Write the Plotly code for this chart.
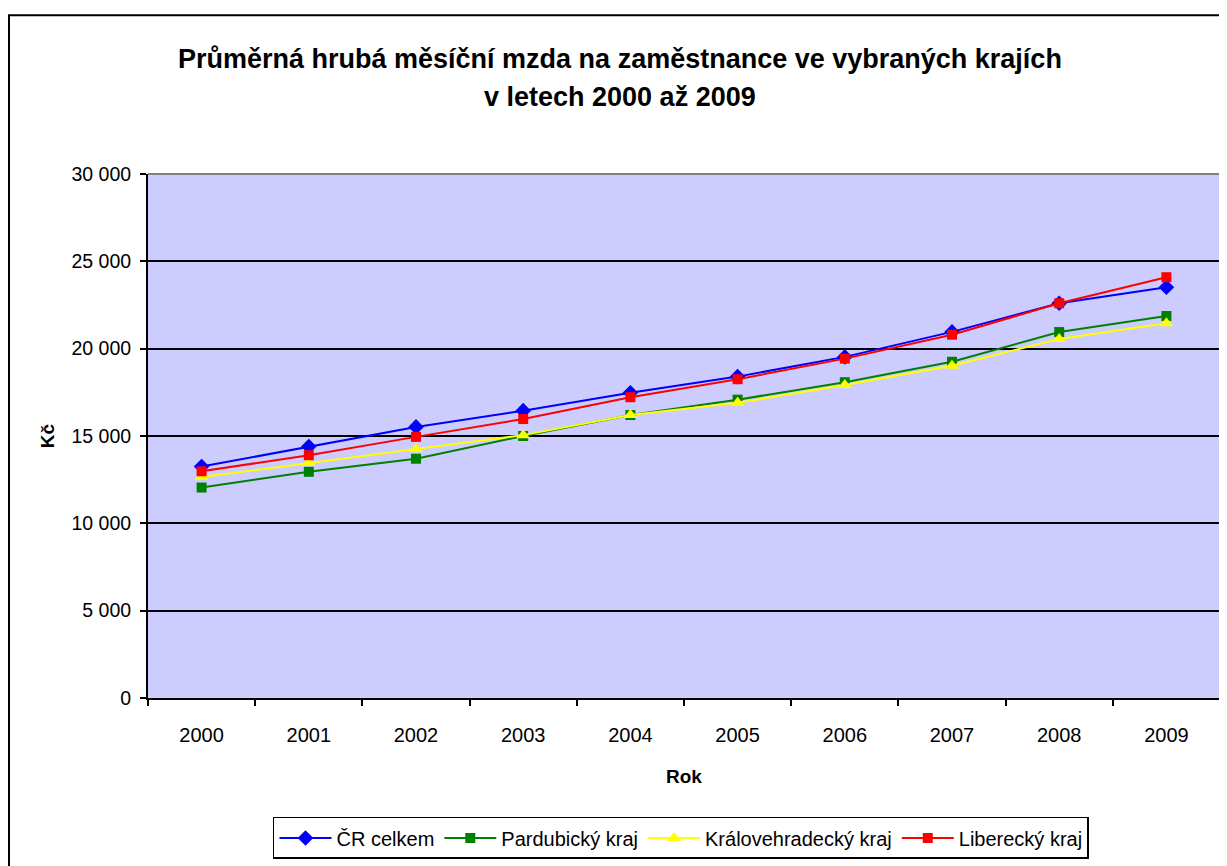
import plotly.graph_objects as go

# Data
roky = ['2000', '2001', '2002', '2003', '2004', '2005', '2006', '2007', '2008', '2009']
cr_celkem = [13250, 14400, 15520, 16450, 17480, 18400, 19530, 20960, 22600, 23520]
pardubicky = [12050, 12950, 13700, 15000, 16200, 17080, 18080, 19250, 20950, 21870]
kralovehradecky = [12650, 13450, 14250, 15050, 16200, 16900, 17920, 19020, 20550, 21450]
liberecky = [12980, 13900, 14950, 15970, 17220, 18250, 19430, 20800, 22600, 24090]

serie = [
    ('ČR celkem', cr_celkem, '#0000FF', 'diamond', 12),
    ('Pardubický kraj', pardubicky, '#008000', 'square', 10),
    ('Královehradecký kraj', kralovehradecky, '#FFFF00', 'triangle-up', 12),
    ('Liberecký kraj', liberecky, '#FF0000', 'square', 10),
]

FONT = 'Liberation Sans, Arial, sans-serif'

fig = go.Figure()
for name, vals, color, symbol, size in serie:
    fig.add_trace(go.Scatter(
        x=roky, y=vals, name=name, mode='lines+markers',
        line=dict(color=color, width=2),
        marker=dict(symbol=symbol, size=size, color=color, line=dict(width=0)),
    ))

# page body has an 8px margin, so the figure is 8px smaller than the window
fig.update_layout(
    width=1219, height=858,
    margin=dict(l=140, r=7, t=166, b=164),
    paper_bgcolor='white',
    plot_bgcolor='#CCCCFF',
    separators=', ',
    font=dict(family=FONT, size=19, color='black'),
    showlegend=True,
    legend=dict(
        orientation='h', x=0.1166, y=-0.227, xanchor='left', yanchor='top',
        bordercolor='black', borderwidth=1.5, bgcolor='white',
        font=dict(family=FONT, size=20), itemwidth=52, tracegroupgap=0,
    ),
    xaxis=dict(
        type='category', range=[-0.5, len(roky) - 0.5],
        showgrid=False, showline=True, linecolor='black', linewidth=2,
        ticks='outside', tickson='boundaries', ticklen=6, tickcolor='black', tickwidth=1.5,
        ticklabelstandoff=18,
        title=dict(text='<b>Rok</b>', font=dict(size=19), standoff=25),
        tickfont=dict(size=20),
    ),
    yaxis=dict(
        range=[0, 30000], dtick=5000, tickformat=',d',
        showgrid=True, gridcolor='black', gridwidth=1.5,
        showline=True, linecolor='black', linewidth=2, zeroline=False,
        ticks='outside', ticklen=6, tickcolor='black', tickwidth=1.5,
        ticklabelstandoff=5,
        title=dict(text='<b>Kč</b>', font=dict(size=19), standoff=12),
        tickfont=dict(size=19.5),
    ),
    annotations=[
        dict(text='<b>Průměrná hrubá měsíční mzda na zaměstnance ve vybraných krajích</b>',
             xref='paper', yref='paper', x=0.44, y=(694 - 50) / 528,
             xanchor='center', yanchor='middle', showarrow=False,
             font=dict(family=FONT, size=27, color='black')),
        dict(text='<b>v letech 2000 až 2009</b>',
             xref='paper', yref='paper', x=0.44, y=(694 - 88) / 528,
             xanchor='center', yanchor='middle', showarrow=False,
             font=dict(family=FONT, size=27, color='black')),
    ],
    shapes=[
        # grey top and right border of the plot area
        dict(type='line', xref='paper', yref='paper', x0=0, x1=1, y0=1, y1=1,
             line=dict(color='#808080', width=2), layer='above'),
        dict(type='line', xref='paper', yref='paper', x0=1, x1=1, y0=0, y1=1,
             line=dict(color='#808080', width=2), layer='above'),
        # outer chart border
        dict(type='rect', xref='paper', yref='paper',
             x0=(1 - 140) / 1072, x1=1.05, y0=-0.35, y1=(694 - 6) / 528,
             line=dict(color='black', width=2), layer='below'),
    ],
)

fig.write_html('out.html')
